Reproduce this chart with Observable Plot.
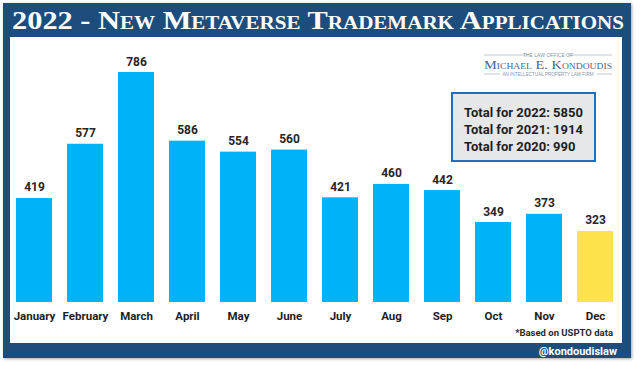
<!DOCTYPE html>
<html>
<head>
<meta charset="utf-8">
<script src="https://cdn.jsdelivr.net/npm/d3@7"></script>
<script src="https://cdn.jsdelivr.net/npm/@observablehq/plot@0.6"></script>
<style>
  html, body { margin: 0; padding: 0; background: #ffffff; }
  #page { position: relative; width: 640px; height: 366px; overflow: hidden; font-family: Roboto, "Liberation Sans", sans-serif; }
  #bg { position: absolute; left: 0; top: 0; }
  #chart { position: absolute; left: 0; top: 37px; }
  #totals { position: absolute; left: 451px; top: 92px; width: 141px; height: 56px;
            background: #e5e7e9; border: 2px solid #1f6fbf; box-sizing: content-box;
            font-weight: 700; font-size: 13px; color: #1e1e1e; line-height: 17px;
            padding: 0; }
  #totals div { padding-left: 11px; }
</style>
</head>
<body>
<div id="page">
  <svg id="bg" width="640" height="366" xmlns="http://www.w3.org/2000/svg">
    <defs>
      <filter id="sh" x="-5%" y="-5%" width="110%" height="110%">
        <feDropShadow dx="1" dy="1" stdDeviation="1.5" flood-color="#000" flood-opacity="0.35"/>
      </filter>
    </defs>
    <rect x="3" y="3" width="628" height="355" fill="#1b4e7b" filter="url(#sh)"/>
    <rect x="10" y="37" width="612" height="306" fill="#ffffff"/>
    <text id="title" x="12" y="29" fill="#ffffff" font-family="'Liberation Serif', 'DejaVu Serif', serif"
          font-weight="700" font-size="26" style="font-variant: small-caps"
          textLength="612" lengthAdjust="spacingAndGlyphs"></text>
    <g id="logo" font-family="'Liberation Serif', serif" fill="#4a678c">
      <line x1="484" y1="55" x2="528" y2="55" stroke="#9aa7b5" stroke-width="0.6"/>
      <line x1="568" y1="55" x2="612" y2="55" stroke="#9aa7b5" stroke-width="0.6"/>
      <text x="548" y="57" font-size="5" text-anchor="middle" fill="#8a96a4" font-family="'Liberation Sans', sans-serif">THE LAW OFFICE OF</text>
      <text x="484" y="68.5" font-size="12" style="font-variant: small-caps" textLength="128" lengthAdjust="spacingAndGlyphs">Michael E. Kondoudis</text>
      <line x1="484" y1="74" x2="500" y2="74" stroke="#9aa7b5" stroke-width="0.6"/>
      <line x1="597" y1="74" x2="612" y2="74" stroke="#9aa7b5" stroke-width="0.6"/>
      <text x="548" y="76" font-size="4.6" text-anchor="middle" fill="#8a96a4" font-family="'Liberation Sans', sans-serif">AN INTELLECTUAL PROPERTY LAW FIRM</text>
    </g>
    <text id="note" x="613" y="336" text-anchor="end" font-size="9.5" font-weight="700" fill="#2a2a2a" font-family="Roboto, 'Liberation Sans', sans-serif"></text>
    <text id="handle" x="617" y="355" text-anchor="end" font-size="11" font-weight="700" fill="#ffffff" font-family="Roboto, 'Liberation Sans', sans-serif"></text>
  </svg>
  <div id="chart"></div>
  <div id="totals"></div>
</div>
<script>
// ---- data ----
const months = ["January","February","March","April","May","June","July","Aug","Sep","Oct","Nov","Dec"];
const applications = [419, 577, 786, 586, 554, 560, 421, 460, 442, 349, 373, 323];
const highlighted = ["Dec"];
const totalYears = ["2022", "2021", "2020"];
const totalValues = [5850, 1914, 990];
const titleText = "2022 - New Metaverse Trademark Applications";
const noteText = "*Based on USPTO data";
const handleText = "@kondoudislaw";

// ---- texts ----
document.getElementById("title").textContent = titleText;
document.getElementById("note").textContent = noteText;
document.getElementById("handle").textContent = handleText;
const tot = document.getElementById("totals");
tot.style.paddingTop = "10px";
totalYears.forEach((y, i) => {
  const d = document.createElement("div");
  d.textContent = `Total for ${y}: ${totalValues[i]}`;
  tot.appendChild(d);
});

// ---- chart ----
const data = months.map((m, i) => ({month: m, value: applications[i]}));

const chart = Plot.plot({
  width: 640,
  height: 300,
  marginLeft: 14,
  marginRight: 25,
  marginTop: 35,
  marginBottom: 35,
  style: {background: "transparent", fontFamily: "Roboto, 'Liberation Sans', sans-serif"},
  x: {domain: months, padding: 0.3, paddingOuter: 0, label: null},
  y: {domain: [116, 786], clamp: true, axis: null},
  marks: [
    Plot.barY(data, {
      x: "month", y: "value",
      fill: d => highlighted.includes(d.month) ? "#fde24b" : "#00b3f7"
    }),
    Plot.text(data, {
      x: "month", y: "value", text: d => String(d.value),
      lineAnchor: "bottom", dy: -7,
      fontSize: 12, fontWeight: 700, fill: "#262626"
    }),
    Plot.axisX({
      tickSize: 0, tickPadding: 9, fontSize: 11.5, fontWeight: 700,
      label: null, color: "#1e1e1e"
    })
  ]
});
chart.querySelectorAll("[aria-label='x-axis tick label'] text").forEach(t => t.setAttribute("font-weight", "700"));
document.getElementById("chart").appendChild(chart);
</script>
</body>
</html>
